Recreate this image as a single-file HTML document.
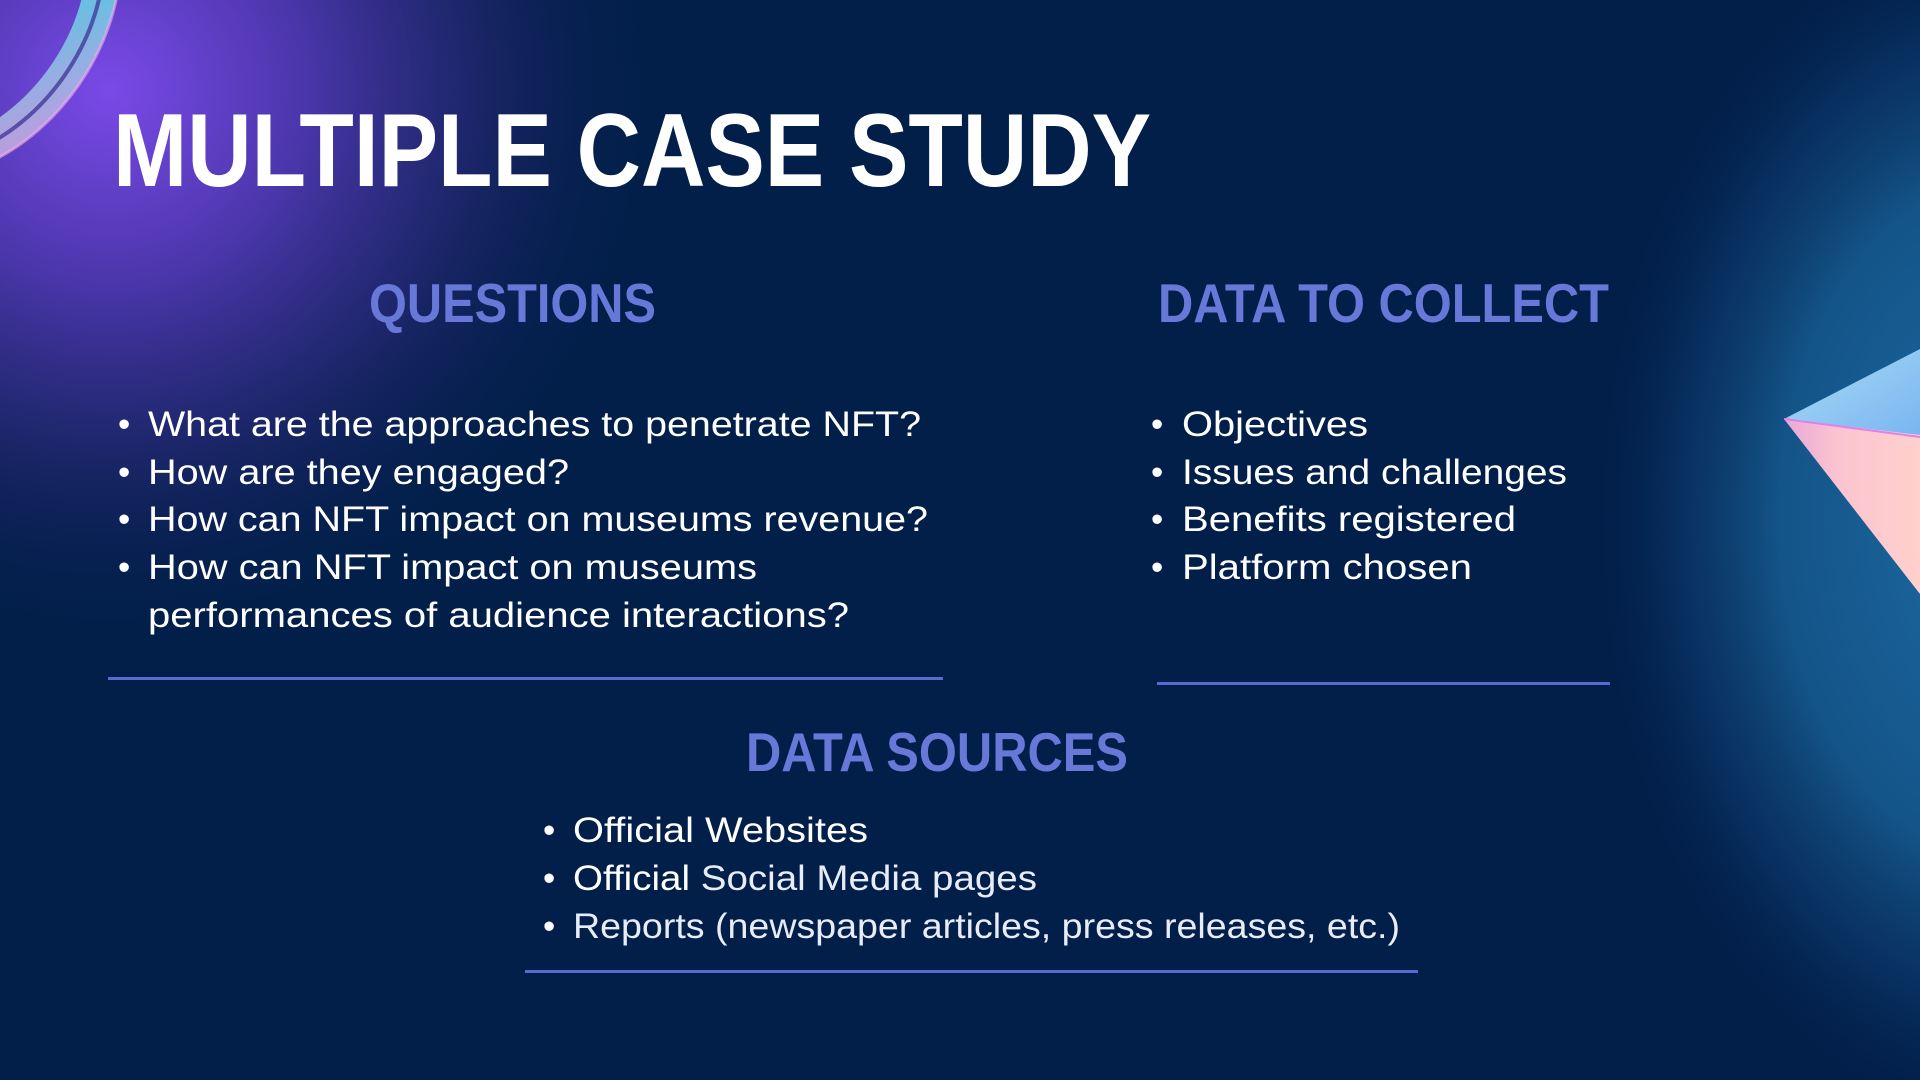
<!DOCTYPE html>
<html><head><meta charset="utf-8"><style>
html,body{margin:0;padding:0;background:#021f4a;overflow:hidden}
svg{display:block}
</style></head><body>
<svg width="1920" height="1080" viewBox="0 0 1920 1080" xmlns="http://www.w3.org/2000/svg" font-family="'Liberation Sans', sans-serif">
<defs>
<radialGradient id="purple" cx="110" cy="90" r="560" gradientUnits="userSpaceOnUse">
<stop offset="0" stop-color="#7a4ae8"/><stop offset="0.35" stop-color="#4a36aa"/><stop offset="0.7" stop-color="#1a2566" stop-opacity="0.8"/><stop offset="1" stop-color="#021f4a" stop-opacity="0"/></radialGradient>
<radialGradient id="blue" cx="0" cy="0" r="1" gradientUnits="userSpaceOnUse" gradientTransform="translate(2010 520) scale(420 620)">
<stop offset="0" stop-color="#1d6ca4"/><stop offset="0.55" stop-color="#145488"/><stop offset="0.8" stop-color="#0a3566" stop-opacity="0.7"/><stop offset="1" stop-color="#021f4a" stop-opacity="0"/></radialGradient>
<linearGradient id="ring" x1="0" y1="0" x2="1" y2="1"><stop offset="0" stop-color="#e08ce8"/><stop offset="0.5" stop-color="#4de0e8"/><stop offset="1" stop-color="#f0a0e0"/></linearGradient>
<linearGradient id="pyrTop" x1="0" y1="0" x2="1" y2="1"><stop offset="0" stop-color="#a8dcf6"/><stop offset="1" stop-color="#78b4f0"/></linearGradient>
<linearGradient id="pyrBot" x1="0" y1="0" x2="1" y2="0"><stop offset="0" stop-color="#e8a8d8"/><stop offset="0.4" stop-color="#fcc4d0"/><stop offset="1" stop-color="#ffd0cc"/></linearGradient>
</defs>
<rect width="1920" height="1080" fill="#021f4a"/>
<rect width="1920" height="1080" fill="url(#purple)"/>
<rect width="1920" height="1080" fill="url(#blue)"/>
<g>
<ellipse cx="-30" cy="10" rx="115" ry="165" transform="rotate(35 -30 10)" fill="none" stroke="url(#ring)" stroke-width="34" opacity="0.85"/>
<ellipse cx="-30" cy="10" rx="115" ry="165" transform="rotate(35 -30 10)" fill="none" stroke="#3a2a90" stroke-width="4" opacity="0.7"/>
<ellipse cx="-30" cy="10" rx="132" ry="182" transform="rotate(35 -30 10)" fill="none" stroke="#f0b0e8" stroke-width="3" opacity="0.6"/>
</g>
<g>
<polygon points="1784,419 1920,349 1920,441" fill="url(#pyrTop)"/>
<polygon points="1784,419 1920,435 1920,594" fill="url(#pyrBot)"/>
<line x1="1784" y1="419" x2="1920" y2="437" stroke="#e080e8" stroke-width="2"/>
</g>
<text x="113" y="186" font-size="104" font-weight="bold" fill="#ffffff" textLength="1038" lengthAdjust="spacingAndGlyphs">MULTIPLE CASE STUDY</text>

<text x="369" y="322" font-size="55" font-weight="bold" fill="#6878d8" textLength="287" lengthAdjust="spacingAndGlyphs">QUESTIONS</text>
<text x="1158" y="322" font-size="55" font-weight="bold" fill="#6878d8" textLength="451" lengthAdjust="spacingAndGlyphs">DATA TO COLLECT</text>

<g fill="#ffffff" font-size="35">
<text x="118" y="436">•</text><text x="148" y="436" textLength="773" lengthAdjust="spacingAndGlyphs">What are the approaches to penetrate NFT?</text>
<text x="118" y="484">•</text><text x="148" y="484" textLength="421" lengthAdjust="spacingAndGlyphs">How are they engaged?</text>
<text x="118" y="531">•</text><text x="148" y="531" textLength="780" lengthAdjust="spacingAndGlyphs">How can NFT impact on museums revenue?</text>
<text x="118" y="579">•</text><text x="148" y="579" textLength="609" lengthAdjust="spacingAndGlyphs">How can NFT impact on museums</text>
<text x="148" y="627" textLength="701" lengthAdjust="spacingAndGlyphs">performances of audience interactions?</text>
</g>
<rect x="108" y="677" width="835" height="3" fill="#5a6ad0"/>

<g fill="#ffffff" font-size="35">
<text x="1151" y="436">•</text><text x="1182" y="436" textLength="186" lengthAdjust="spacingAndGlyphs">Objectives</text>
<text x="1151" y="484">•</text><text x="1182" y="484" textLength="385" lengthAdjust="spacingAndGlyphs">Issues and challenges</text>
<text x="1151" y="531">•</text><text x="1182" y="531" textLength="334" lengthAdjust="spacingAndGlyphs">Benefits registered</text>
<text x="1151" y="579">•</text><text x="1182" y="579" textLength="290" lengthAdjust="spacingAndGlyphs">Platform chosen</text>
</g>
<rect x="1157" y="682" width="453" height="3" fill="#5a6ad0"/>

<text x="746" y="771" font-size="55" font-weight="bold" fill="#6878d8" textLength="382" lengthAdjust="spacingAndGlyphs">DATA SOURCES</text>
<g fill="#ffffff" font-size="35">
<text x="543" y="842">•</text><text x="573" y="842" textLength="295" lengthAdjust="spacingAndGlyphs">Official Websites</text>
<text x="543" y="890">•</text><text x="573" y="890" textLength="464" lengthAdjust="spacingAndGlyphs">Official <tspan fill="#e8ecf8">Social Media pages</tspan></text>
<text x="543" y="938">•</text><text x="573" y="938" fill="#e8ecf8" textLength="827" lengthAdjust="spacingAndGlyphs">Reports (newspaper articles, press releases, etc.)</text>
</g>
<rect x="525" y="970" width="893" height="3" fill="#5a6ad0"/>
</svg>
</body></html>
